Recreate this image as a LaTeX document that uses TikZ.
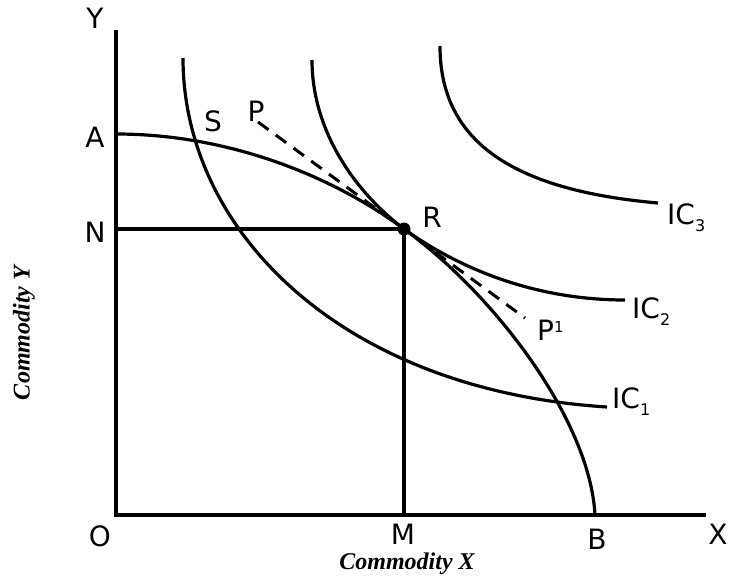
\documentclass[tikz,border=0pt]{standalone}
\usepackage{fontspec}
\setmainfont{DejaVu Sans}
\newfontfamily\captfont{Liberation Serif}
\begin{document}
\begin{tikzpicture}[x=1pt,y=-1pt,
  axis/.style={line width=3.8pt},
  curve/.style={line width=3.2pt},
  guide/.style={line width=3.2pt},
  dashline/.style={line width=3pt,dash pattern=on 13pt off 9pt},
  lbl/.style={inner sep=0pt,font=\fontsize{28}{30}\selectfont},
  axcaption/.style={inner sep=0pt,font=\captfont\bfseries\itshape\fontsize{24}{26}\selectfont}]
\useasboundingbox (0,0) rectangle (732,576);
% key points
\coordinate (O) at (116,515);
\coordinate (Ytop) at (116,30);
\coordinate (Xend) at (706,515);
\coordinate (A) at (116,134);
\coordinate (Np) at (116,229);
\coordinate (R) at (404,229);
\coordinate (Mp) at (404,515);
\coordinate (Bp) at (595,515);
\coordinate (Pa) at (258,122);
\coordinate (Pb) at (525,318);
% axes
\draw[axis] (Ytop) -- (O) -- (Xend);
% guides
\draw[guide] (Np) -- (R) -- (Mp);
% production possibility curve
\draw[curve] (A) .. controls (230,134) and (334,177) .. (R)
             .. controls (494,294) and (590,420) .. (Bp);
% indifference curves
\draw[curve] (183,58) .. controls (183,230) and (340,390) .. (607,407);
\draw[curve] (312,60) .. controls (312,130) and (354,191) .. (R)
             .. controls (464,272) and (540,300) .. (625,300);
\draw[curve] (440,46) .. controls (440,140) and (510,190) .. (658,203);
% price line
\draw[dashline] (Pa) -- (Pb);
% point R
\fill (R) circle (6.5pt);
% labels
\node[lbl] (lY) at (95,18) {Y};
\node[lbl] (lA) at (95,137) {A};
\node[lbl] (lN) at (95,232) {N};
\node[lbl] (lO) at (100,536) {O};
\node[lbl] (lM) at (403,534) {M};
\node[lbl] (lB) at (597,539) {B};
\node[lbl] (lX) at (718,534) {X};
\node[lbl] (lS) at (213,121) {S};
\node[lbl] (lP) at (256,111) {P};
\node[lbl] (lR) at (432,217) {R};
\node[lbl,anchor=west] (lP1) at (537,330) {P\raisebox{0.5ex}{\fontsize{15}{15}\selectfont 1}};
\node[lbl,anchor=west] (lIC1) at (612,402) {IC\raisebox{-0.45ex}{\fontsize{16}{16}\selectfont 1}};
\node[lbl,anchor=west] (lIC2) at (632,312) {IC\raisebox{-0.45ex}{\fontsize{16}{16}\selectfont 2}};
\node[lbl,anchor=west] (lIC3) at (667,218) {IC\raisebox{-0.45ex}{\fontsize{16}{16}\selectfont 3}};
\node[axcaption,anchor=base] (cX) at (407,569) {Commodity X};
\node[axcaption,rotate=90] (cY) at (24,333) {Commodity Y};
\end{tikzpicture}
\end{document}
